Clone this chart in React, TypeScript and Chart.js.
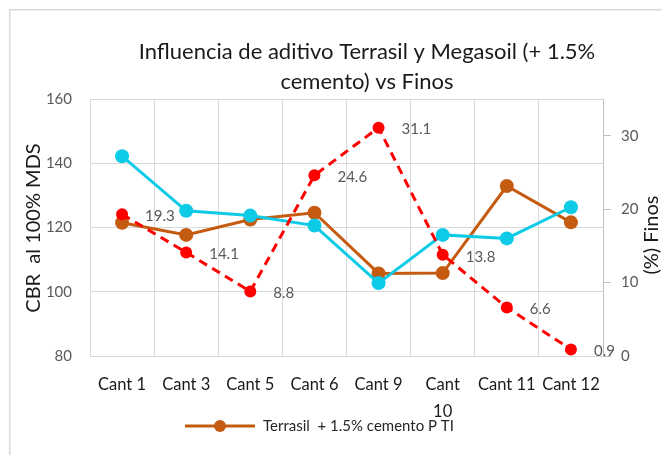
import React, { useEffect, useRef } from "react";
import { Chart, registerables } from "chart.js";

Chart.register(...registerables);

const categories: (string | string[])[] = ["Cant 1", "Cant 3", "Cant 5", "Cant 6", "Cant 9", ["Cant", "10"], "Cant 11", "Cant 12"];
const terrasil = [121.5, 117.7, 122.5, 124.6, 105.7, 105.8, 132.9, 121.6];
const megasoil = [142.2, 125.2, 123.7, 120.6, 102.7, 117.7, 116.6, 126.3];
const finos = [19.3, 14.1, 8.8, 24.6, 31.1, 13.8, 6.6, 0.9];
const titleLines = ["Influencia de aditivo Terrasil y Megasoil (+ 1.5%", "cemento) vs Finos"];
const leftTitle = "CBR  al 100% MDS";
const rightTitle = "(%) Finos";
const legendLabel = "Terrasil  + 1.5% cemento P TI";
const seriesNames = [legendLabel, "Megasoil + 1.5% cemento P TI", "% Finos"];

const FONT = 'Lato, "Open Sans", sans-serif';
const BROWN = "#C55A11";
const CYAN = "#0DCBE6";
const RED = "#FF0000";
const GRID = "#D9D9D9";

const decorPlugin = {
  id: "decor",
  afterDatasetsDraw(chart: any) {
    const ctx = chart.ctx;
    const meta = chart.getDatasetMeta(2);
    ctx.save();
    ctx.font = `15px ${FONT}`;
    ctx.fillStyle = "#595959";
    ctx.textAlign = "left";
    ctx.textBaseline = "middle";
    meta.data.forEach((pt: any, i: number) => {
      ctx.fillText(String(finos[i]), pt.x + 23, pt.y + 2);
    });
    ctx.restore();
  },
  afterDraw(chart: any) {
    const ctx = chart.ctx;
    ctx.save();
    // outer border
    ctx.strokeStyle = GRID;
    ctx.lineWidth = 1.5;
    ctx.beginPath();
    ctx.moveTo(9.75, 455);
    ctx.lineTo(9.75, 9.75);
    ctx.lineTo(662, 9.75);
    ctx.stroke();

    // title
    ctx.fillStyle = "#1a1a1a";
    ctx.font = `22px ${FONT}`;
    ctx.textAlign = "center";
    ctx.textBaseline = "middle";
    titleLines.forEach((t, i) => ctx.fillText(t, 367, 52 + i * 30));

    // axis titles
    ctx.font = `20px ${FONT}`;
    ctx.save();
    ctx.translate(34, 228);
    ctx.rotate(-Math.PI / 2);
    ctx.fillText(leftTitle, 0, 0);
    ctx.restore();
    ctx.save();
    ctx.translate(652, 235);
    ctx.rotate(-Math.PI / 2);
    ctx.fillText(rightTitle, 0, 0);
    ctx.restore();

    // legend
    const ly = 426;
    ctx.strokeStyle = BROWN;
    ctx.lineWidth = 3;
    ctx.beginPath();
    ctx.moveTo(185, ly);
    ctx.lineTo(255, ly);
    ctx.stroke();
    ctx.fillStyle = BROWN;
    ctx.beginPath();
    ctx.arc(220, ly, 6, 0, Math.PI * 2);
    ctx.fill();
    ctx.fillStyle = "#262626";
    ctx.font = `15px ${FONT}`;
    ctx.textAlign = "left";
    ctx.fillText(legendLabel, 263, ly);
    ctx.restore();
  },
};

export default function App() {
  const ref = useRef<HTMLCanvasElement | null>(null);
  useEffect(() => {
    if (!ref.current) return;
    Chart.defaults.font.family = FONT;
    const chart = new Chart(ref.current, {
      type: "line",
      data: {
        labels: categories as any,
        datasets: [
          {
            label: seriesNames[0],
            data: terrasil,
            borderColor: BROWN,
            backgroundColor: BROWN,
            borderWidth: 3,
            pointRadius: 7,
            pointHoverRadius: 7,
            pointBorderWidth: 0,
            yAxisID: "y",
            order: 2,
          },
          {
            label: seriesNames[1],
            data: megasoil,
            borderColor: CYAN,
            backgroundColor: CYAN,
            borderWidth: 3,
            pointRadius: 7,
            pointHoverRadius: 7,
            pointBorderWidth: 0,
            yAxisID: "y",
            order: 1,
          },
          {
            label: seriesNames[2],
            data: finos,
            borderColor: RED,
            backgroundColor: RED,
            borderWidth: 3,
            borderDash: [9, 6],
            pointRadius: 6,
            pointHoverRadius: 6,
            pointBorderWidth: 0,
            yAxisID: "y1",
            order: 0,
          },
        ],
      },
      options: {
        responsive: false,
        animation: false,
        devicePixelRatio: 1,
        layout: { padding: { top: 99, left: 0, right: 0, bottom: 0 } },
        plugins: {
          legend: { display: false },
          title: { display: false },
          tooltip: { enabled: false },
        },
        scales: {
          x: {
            offset: true,
            afterFit: (s: any) => { s.height = 99; },
            grid: { offset: true, color: GRID, lineWidth: 1, drawTicks: false },
            border: { display: true, color: GRID },
            ticks: {
              autoSkip: false,
              maxRotation: 0,
              minRotation: 0,
              padding: 15,
              color: "#1a1a1a",
              font: { size: 16.5, lineHeight: 1.65 },
            },
          },
          y: {
            position: "left",
            min: 80,
            max: 160,
            afterFit: (s: any) => { s.width = 90; },
            grid: { color: GRID, lineWidth: 1, drawTicks: false },
            border: { display: true, color: GRID },
            ticks: { stepSize: 20, padding: 18, color: "#595959", font: { size: 15 } },
          },
          y1: {
            position: "right",
            min: 0,
            max: 35,
            afterFit: (s: any) => { s.width = 59; },
            grid: { drawOnChartArea: false, drawTicks: true, tickLength: 8, color: "#BFBFBF" },
            border: { display: true, color: "#BFBFBF" },
            ticks: { stepSize: 10, includeBounds: false, padding: 10, color: "#595959", font: { size: 15 } },
          },
        },
      },
      plugins: [decorPlugin],
    });
    return () => chart.destroy();
  }, []);
  return (
    <div style={{ position: "fixed", left: 0, top: 0, width: 662, height: 455, background: "#fff" }}>
      <canvas ref={ref} width={662} height={455} />
    </div>
  );
}
